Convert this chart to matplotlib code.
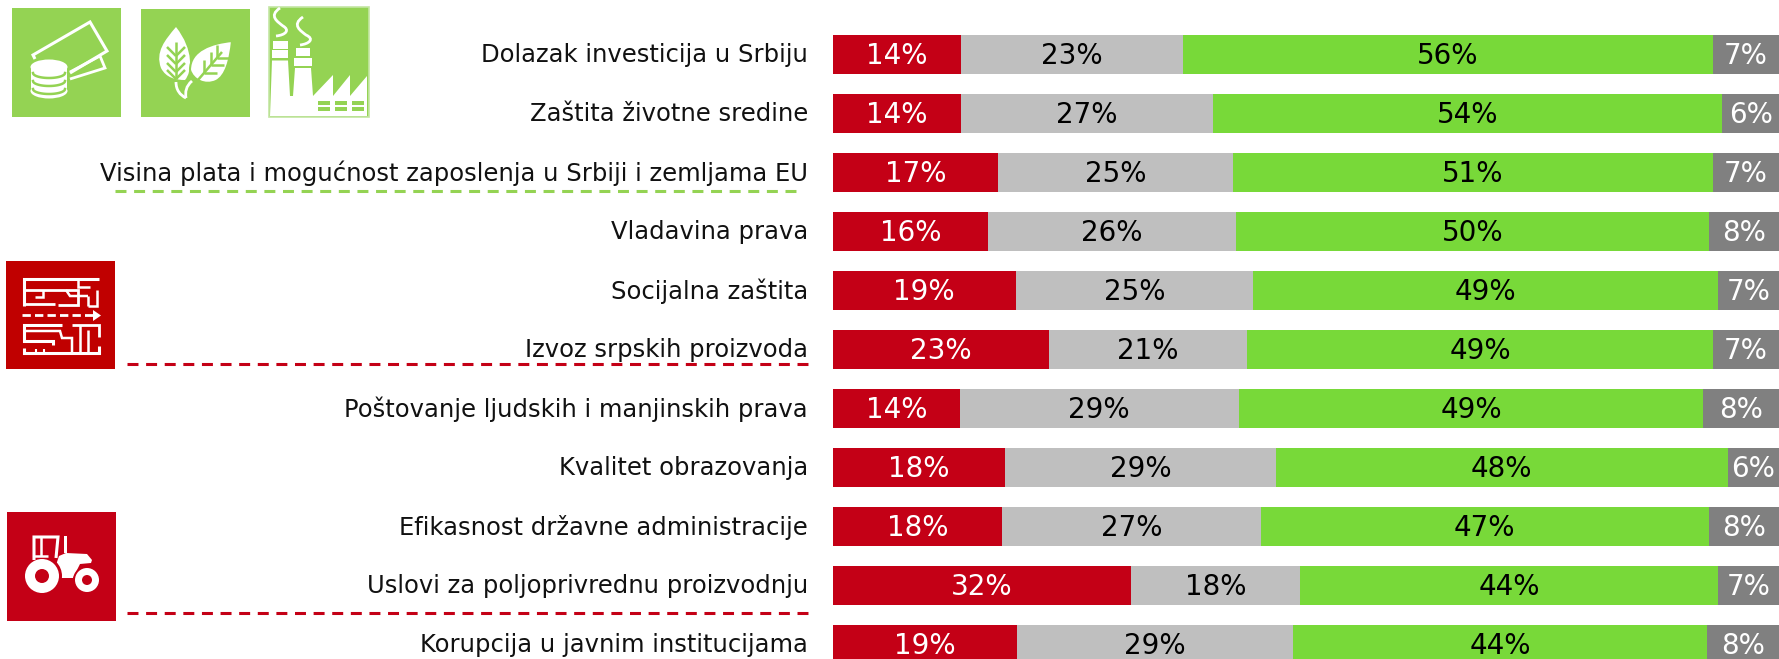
import matplotlib
matplotlib.use('Agg')
import matplotlib.pyplot as plt
import numpy as np
from matplotlib.patches import Rectangle, Circle, Ellipse, Polygon, PathPatch
from matplotlib.path import Path
from matplotlib.transforms import ScaledTranslation

categories = ['Dolazak investicija u Srbiju', 'Zaštita životne sredine',
              'Visina plata i mogućnost zaposlenja u Srbiji i zemljama EU', 'Vladavina prava',
              'Socijalna zaštita', 'Izvoz srpskih proizvoda', 'Poštovanje ljudskih i manjinskih prava',
              'Kvalitet obrazovanja', 'Efikasnost državne administracije',
              'Uslovi za poljoprivrednu proizvodnju', 'Korupcija u javnim institucijama']

# segment widths, printed labels are rounded in the source
red_vals = [13.5, 13.5, 17.4, 16.4, 19.3, 22.8, 13.4, 18.2, 17.9, 31.5, 19.4]
grey_vals = [23.5, 26.7, 24.9, 26.2, 25.1, 21.0, 29.5, 28.6, 27.3, 17.9, 29.2]
green_vals = [56.0, 53.8, 50.7, 50.0, 49.1, 49.2, 49.1, 47.8, 47.4, 44.1, 43.8]
dark_vals = [7.0, 6.0, 7.0, 7.4, 6.5, 7.0, 8.0, 5.4, 7.4, 6.5, 7.6]

red_labels = [14, 14, 17, 16, 19, 23, 14, 18, 18, 32, 19]
grey_labels = [23, 27, 25, 26, 25, 21, 29, 29, 27, 18, 29]
green_labels = [56, 54, 51, 50, 49, 49, 49, 48, 47, 44, 44]
dark_labels = [7, 6, 7, 8, 7, 7, 8, 6, 8, 7, 8]

RED = '#C40016'
MAZE_RED = '#C00000'
GREY = '#BFBFBF'
GREEN = '#78D939'
DARK = '#808080'
ICON_GREEN = '#94D353'
W, H = 1779, 659

plt.rcParams['font.family'] = ['DejaVu Sans']
plt.rcParams['lines.scale_dashes'] = False
fig = plt.figure(figsize=(W / 100, H / 100), dpi=100)

# bars
ax = fig.add_axes([833 / W, 0, (W - 833) / W, 1])
y = np.arange(len(categories))
series = [(red_vals, red_labels, RED, 'white'), (grey_vals, grey_labels, GREY, 'black'),
          (green_vals, green_labels, GREEN, 'black'), (dark_vals, dark_labels, DARK, 'white')]
left = np.zeros(len(categories))
for vals, labels, col, txt in series:
    vals = np.array(vals)
    ax.barh(y, vals, left=left, height=39.5 / 59, color=col, linewidth=0)
    for i in y:
        ax.text(left[i] + vals[i] / 2, i + 0.03, '%d%%' % labels[i], color=txt,
                fontsize=20, ha='center', va='center')
    left = left + vals
ax.set_xlim(0, 100)
ax.set_ylim((H - 54.5) / 59, -54.5 / 59)
ax.set_yticks(y)
ax.set_yticklabels(categories, fontsize=17.48, color='#111111')
ax.tick_params(axis='y', length=0, pad=18)
for lab in ax.get_yticklabels():
    lab.set_transform(lab.get_transform() + ScaledTranslation(0, 0.02, fig.dpi_scale_trans))
ax.xaxis.set_visible(False)
for s in ax.spines.values():
    s.set_visible(False)
ax.patch.set_alpha(0)

# overlay in pixel coordinates for icons and dashed lines
ov = fig.add_axes([0, 0, 1, 1])
ov.set_xlim(0, W)
ov.set_ylim(H, 0)
ov.axis('off')
ov.patch.set_alpha(0)


def square(x0, y0, x1, y1, col):
    ov.add_patch(Rectangle((x0, y0), x1 - x0, y1 - y0, color=col, linewidth=0))


def wline(pts, lw=2.0, col='white'):
    pts = np.array(pts)
    ov.plot(pts[:, 0], pts[:, 1], color=col, lw=lw, solid_capstyle='butt', solid_joinstyle='miter')


def curve(pts, lw=2.0):
    ov.add_patch(PathPatch(Path(pts, [1] + [4] * (len(pts) - 1)), fill=False, edgecolor='white', lw=lw))


for yy, x0, x1, col in [(191.3, 115, 797, ICON_GREEN), (364, 127, 809, RED), (612.5, 127, 809, RED)]:
    ov.plot([x0, x1], [yy, yy], color=col, lw=2.2, dashes=(7.9, 5.5))

# money icon
square(12, 8, 121, 117, ICON_GREEN)
wline([(35, 59), (33, 55), (90, 22), (107, 51), (70, 73)], 2.2)
wline([(70, 79), (105, 68), (100, 56), (70, 72)], 2.0)
ov.add_patch(Rectangle((31, 67), 36, 24, color='white', linewidth=0))
ov.add_patch(Ellipse((49, 67), 37, 15, color='white', linewidth=0))
ov.add_patch(Ellipse((49, 91), 37, 15, color='white', linewidth=0))
for cy in [73, 81, 89]:
    t = np.linspace(0, np.pi, 30)
    ov.plot(49 + 16 * np.cos(t), cy + 5 * np.sin(t), color=ICON_GREEN, lw=1.8)

# leaf icon
square(141, 9, 250, 117, ICON_GREEN)
leaf1 = Path([(176, 27), (165, 40), (155, 52), (161, 68), (166, 78), (176, 80), (185, 80),
              (192, 72), (194, 50), (176, 27)],
             [1] + [4] * 9)
ov.add_patch(PathPatch(leaf1, facecolor='white', edgecolor='none'))
leaf2 = Path([(232, 41), (212, 43), (190, 50), (190, 70), (193, 80), (205, 86), (216, 81),
              (226, 76), (230, 60), (232, 41)],
             [1] + [4] * 9)
ov.add_patch(PathPatch(leaf2, facecolor='white', edgecolor=ICON_GREEN, lw=1.5))
wline([(176, 42), (176, 79)], 1.8, ICON_GREEN)
for by in [50, 58, 66, 73]:
    wline([(176, by + 6), (176 - 9, by - 3)], 1.8, ICON_GREEN)
    wline([(176, by + 6), (176 + 9, by - 3)], 1.8, ICON_GREEN)
wline([(198, 80), (222, 52)], 1.8, ICON_GREEN)
for bx, by in [(204, 73), (211, 65), (217, 58)]:
    wline([(bx, by), (bx, by - 13)], 1.8, ICON_GREEN)
    wline([(bx, by), (bx + 13, by)], 1.8, ICON_GREEN)
curve([(176, 82), (176, 90), (180, 95), (186, 98)], 2.0)
curve([(192, 81), (186, 86), (185, 92), (186, 98)], 2.0)

# factory icon
square(269, 7, 369, 117, ICON_GREEN)
ov.add_patch(Rectangle((269, 7), 100, 110, fill=False, edgecolor='#C4E6A3', lw=1.2))
ov.add_patch(Polygon([(270, 116), (272, 60.5), (288, 60.5), (290, 96), (293, 96), (295, 68), (311, 68),
                      (313, 96), (333, 75), (333, 96), (350, 75), (350, 96), (367, 76), (367, 116)],
                     color='white', linewidth=0))
square(273, 41, 288, 49, 'white')
square(272, 50, 288, 58, 'white')
square(296, 48, 310, 56, 'white')
square(294, 58, 312, 66, 'white')
for wx in [318, 335, 352]:
    square(wx, 101, wx + 12, 105, ICON_GREEN)
    square(wx, 107, wx + 12, 111, ICON_GREEN)
curve([(280, 8), (268, 16), (278, 22), (283, 26), (290, 30), (286, 35), (276, 36)], 2.0)
curve([(303, 17), (291, 25), (301, 31), (306, 35), (315, 39), (309, 44), (300, 45)], 2.0)

# maze icon
square(6, 261, 115, 369, MAZE_RED)
wline([(24, 306), (24, 279), (99, 279)], 2.2)
wline([(24, 290), (78, 290), (78, 305), (58, 305)], 2.0)
wline([(24, 304), (55, 304)], 2.0)
wline([(43, 290), (43, 297), (35, 297)], 1.8)
wline([(66, 290), (70, 296), (88, 296)], 1.8)
wline([(78, 279), (78, 287), (90, 287)], 1.8)
wline([(88, 296), (88, 306)], 1.8)
wline([(97, 290), (97, 306), (88, 306)], 1.8)
ov.plot([22, 93], [315, 315], color='white', lw=2.0, dashes=(6, 3))
ov.add_patch(Polygon([(93, 310), (101, 315.5), (93, 321)], color='white', linewidth=0))
wline([(62, 325), (24, 325), (24, 341), (53, 341), (53, 345)], 2.2)
wline([(24, 331), (60, 331), (62, 338), (72, 338), (72, 352)], 1.8)
wline([(72, 325), (99, 325), (99, 337)], 2.0)
wline([(80, 325), (80, 352)], 1.8)
wline([(88, 330), (88, 352)], 1.8)
wline([(24, 348), (24, 353), (99, 353), (99, 346)], 2.2)
wline([(36, 349), (36, 353)], 1.5)
wline([(44, 349), (44, 353)], 1.5)

# tractor icon
square(7, 512, 116, 621, RED)
ov.add_patch(Polygon([(59, 556), (66, 553), (87, 554), (92, 560), (91, 563), (80, 564), (73, 578),
                      (58, 578), (56, 565)], color='white', linewidth=0))
wline([(34, 560), (34, 537), (58, 537), (56, 558)], 2.2)
wline([(41, 537), (41, 556)], 1.8)
wline([(34, 556), (48, 556)], 1.8)
square(64, 536, 67, 553, 'white')
ov.add_patch(Circle((42, 576), 20, color=RED, linewidth=0))
ov.add_patch(Circle((42, 576), 17, color='white', linewidth=0))
ov.add_patch(Circle((42, 576), 7, color=RED, linewidth=0))
ov.add_patch(Circle((87, 580), 14, color=RED, linewidth=0))
ov.add_patch(Circle((87, 580), 12, color='white', linewidth=0))
ov.add_patch(Circle((87, 580), 5, color=RED, linewidth=0))

fig.savefig('out.png', dpi=100)
